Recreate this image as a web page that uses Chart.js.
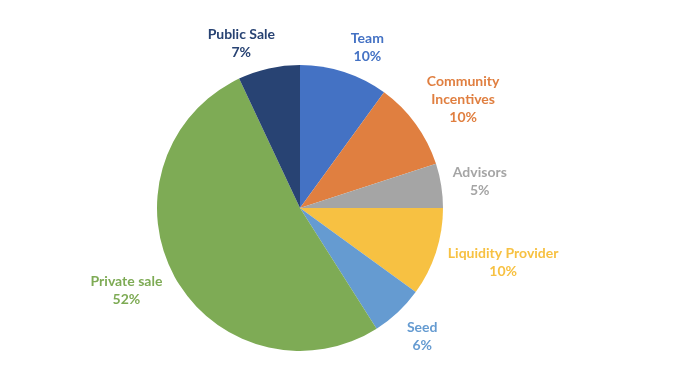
<!DOCTYPE html>
<html>
<head>
<meta charset="utf-8">
<script src="https://cdn.jsdelivr.net/npm/chart.js@4.4.1/dist/chart.umd.min.js"></script>
<style>
  html, body { margin: 0; padding: 0; background: #fff; }
  #wrap { width: 700px; height: 388px; }
</style>
</head>
<body>
<div id="wrap"><canvas id="pie" width="700" height="388"></canvas></div>
<script>
// slices, clockwise from 12 o'clock
const categories = ['Team', ['Community', 'Incentives'], 'Advisors', 'Liquidity Provider', 'Seed', 'Private sale', 'Public Sale'];
const shares = [10, 10, 5, 10, 6, 52, 7];
const sliceColors = ['#4472C4', '#E07F40', '#A5A5A5', '#F7C142', '#659BD1', '#7EAB55', '#284373'];

// small hand nudges for the label boxes (px), like Excel's best-fit placement
const labelNudge = [[15, 2], [10, -3], [2, 0], [5, 2], [7, 4], [-8, 0], [-18, 2]];

const FONT = 'bold 14px Lato';
const LINE_H = 18;

const outsideLabels = {
    id: 'outsideLabels',
    afterDatasetsDraw(chart) {
        const ctx = chart.ctx;
        const meta = chart.getDatasetMeta(0);
        ctx.save();
        ctx.font = FONT;
        ctx.textAlign = 'center';
        ctx.textBaseline = 'middle';
        meta.data.forEach((arc, i) => {
            const p = arc.getProps(['x', 'y', 'startAngle', 'endAngle', 'outerRadius'], true);
            const mid = (p.startAngle + p.endAngle) / 2;
            const name = categories[i];
            const lines = (Array.isArray(name) ? name.slice() : [name]);
            lines.push(shares[i] + '%');
            const w = Math.max(...lines.map(l => ctx.measureText(l).width));
            const h = lines.length * LINE_H;
            const gap = 10;
            const ax = p.x + Math.cos(mid) * (p.outerRadius + gap);
            const ay = p.y + Math.sin(mid) * (p.outerRadius + gap);
            const cx = ax + Math.cos(mid) * w / 2 + labelNudge[i][0];
            const cy = ay + Math.sin(mid) * h / 2 + labelNudge[i][1];
            ctx.fillStyle = sliceColors[i];
            lines.forEach((l, k) => {
                ctx.fillText(l, cx, cy - h / 2 + LINE_H / 2 + k * LINE_H);
            });
        });
        ctx.restore();
    }
};

new Chart(document.getElementById('pie'), {
    type: 'pie',
    data: {
        labels: categories,
        datasets: [{ data: shares, backgroundColor: sliceColors, borderWidth: 0 }]
    },
    options: {
        responsive: false,
        animation: false,
        layout: { padding: { left: 157, right: 257, top: 65, bottom: 37 } },
        plugins: { legend: { display: false }, tooltip: { enabled: false } }
    },
    plugins: [outsideLabels]
});
</script>
</body>
</html>
